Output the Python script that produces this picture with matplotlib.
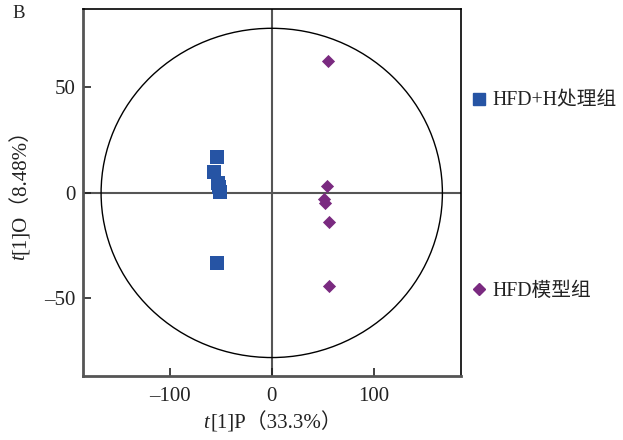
import matplotlib
matplotlib.use("Agg")
import matplotlib.pyplot as plt
from matplotlib.patches import Ellipse
from matplotlib.lines import Line2D

plt.rcParams['font.family'] = ['Liberation Serif', 'Noto Sans CJK SC']

# Data
treat_x = [-53.5, -56.5, -52.5, -51.6, -50.6, -53.5]
treat_y = [17.2, 10.1, 4.7, 2.8, 0.6, -33.2]
model_x = [55.4, 53.8, 51.2, 52.2, 55.8, 55.8]
model_y = [62.7, 3.3, -2.8, -4.7, -13.6, -43.9]
labels = ["HFD+H处理组", "HFD模型组"]
xticks = [-100, 0, 100]
yticks = [-50, 0, 50]
xlabel_rest = "[1]P（33.3%）"
ylabel_rest = "[1]O（8.48%）"
ellipse_axes = (167, 78)

blue = "#2654a4"
purple = "#7a2a80"
tc = "#222222"
FS = 15
LFS = 14.2

W, H = 623, 440
fig = plt.figure(figsize=(6.23, 4.40), dpi=100)
ax = fig.add_axes([82.7/W, 1 - 375.7/H, (461.3-82.7)/W, (375.7-9.3)/H])

ax.axhline(0, color="#555555", lw=1.5, zorder=1)
ax.axvline(0, color="#555555", lw=1.5, zorder=1)
ax.add_patch(Ellipse((0, 0), 2*ellipse_axes[0], 2*ellipse_axes[1], fill=False,
                     edgecolor="black", lw=1.0, zorder=2))

ax.scatter(treat_x, treat_y, marker="s", s=110, color=blue, zorder=3, linewidths=0)
ax.scatter(model_x, model_y, marker="D", s=45, color=purple, zorder=3, linewidths=0)

ax.set_xlim(-185, 185.5)
ax.set_ylim(-86.6, 87)
ax.set_xticks(xticks)
ax.set_yticks(yticks)
ax.set_xticklabels(["\u2013100", "0", "100"])
ax.set_yticklabels(["\u201350", "0", "50"])
ax.tick_params(direction="in", length=6, width=1.2, labelsize=FS, colors=tc)
ax.tick_params(axis="x", pad=8)
ax.tick_params(axis="y", pad=5)
for s in ["left", "bottom"]:
    ax.spines[s].set_color("#555555")
    ax.spines[s].set_linewidth(2.0)
for s in ["top", "right"]:
    ax.spines[s].set_color("black")
    ax.spines[s].set_linewidth(1.2)

# Axis labels: italic "t" followed by the rest
r = fig.canvas.get_renderer()
tx = fig.text(0, 0, "t", fontsize=FS, style="italic", color=tc)
rx = fig.text(0, 0, xlabel_rest, fontsize=FS, color=tc)
w_t = tx.get_window_extent(r).width
w_r = rx.get_window_extent(r).width
total = w_t + w_r
cx, cy = 272, 423
x0 = cx - total/2
tx.set_position((x0/W, 1 - cy/H)); tx.set_va("center")
rx.set_position(((x0 + w_t + 1)/W, 1 - cy/H)); rx.set_va("center")

ty = fig.text(0, 0, "t", fontsize=FS, style="italic", color=tc, rotation=90)
ry = fig.text(0, 0, ylabel_rest, fontsize=FS, color=tc, rotation=90)
h_t = ty.get_window_extent(r).height
h_r = ry.get_window_extent(r).height
total = h_t + h_r
cx, cy = 20, 190
y0 = cy + total/2
ty.set_position((cx/W, 1 - y0/H)); ty.set_ha("center"); ty.set_va("bottom")
ry.set_position((cx/W, 1 - (y0 - h_t - 1)/H)); ry.set_ha("center"); ry.set_va("bottom")

fig.text(19/W, 1 - 14/H, "B", fontsize=13.5, color=tc, va="center", ha="center")

# Legend entries
h1 = Line2D([], [], marker="s", ls="none", color=blue, markersize=9)
h2 = Line2D([], [], marker="D", ls="none", color=purple, markersize=6)
leg1 = fig.legend([h1], [labels[0]], loc="center left", bbox_to_anchor=(471/W, 1 - 101/H),
                  frameon=False, fontsize=LFS, handlelength=0.8, handletextpad=0.3,
                  borderaxespad=0, borderpad=0)
leg2 = fig.legend([h2], [labels[1]], loc="center left", bbox_to_anchor=(471/W, 1 - 291/H),
                  frameon=False, fontsize=LFS, handlelength=0.8, handletextpad=0.3,
                  borderaxespad=0, borderpad=0)
for lg in (leg1, leg2):
    for t in lg.get_texts():
        t.set_color(tc)

fig.savefig("out.png", dpi=100)
